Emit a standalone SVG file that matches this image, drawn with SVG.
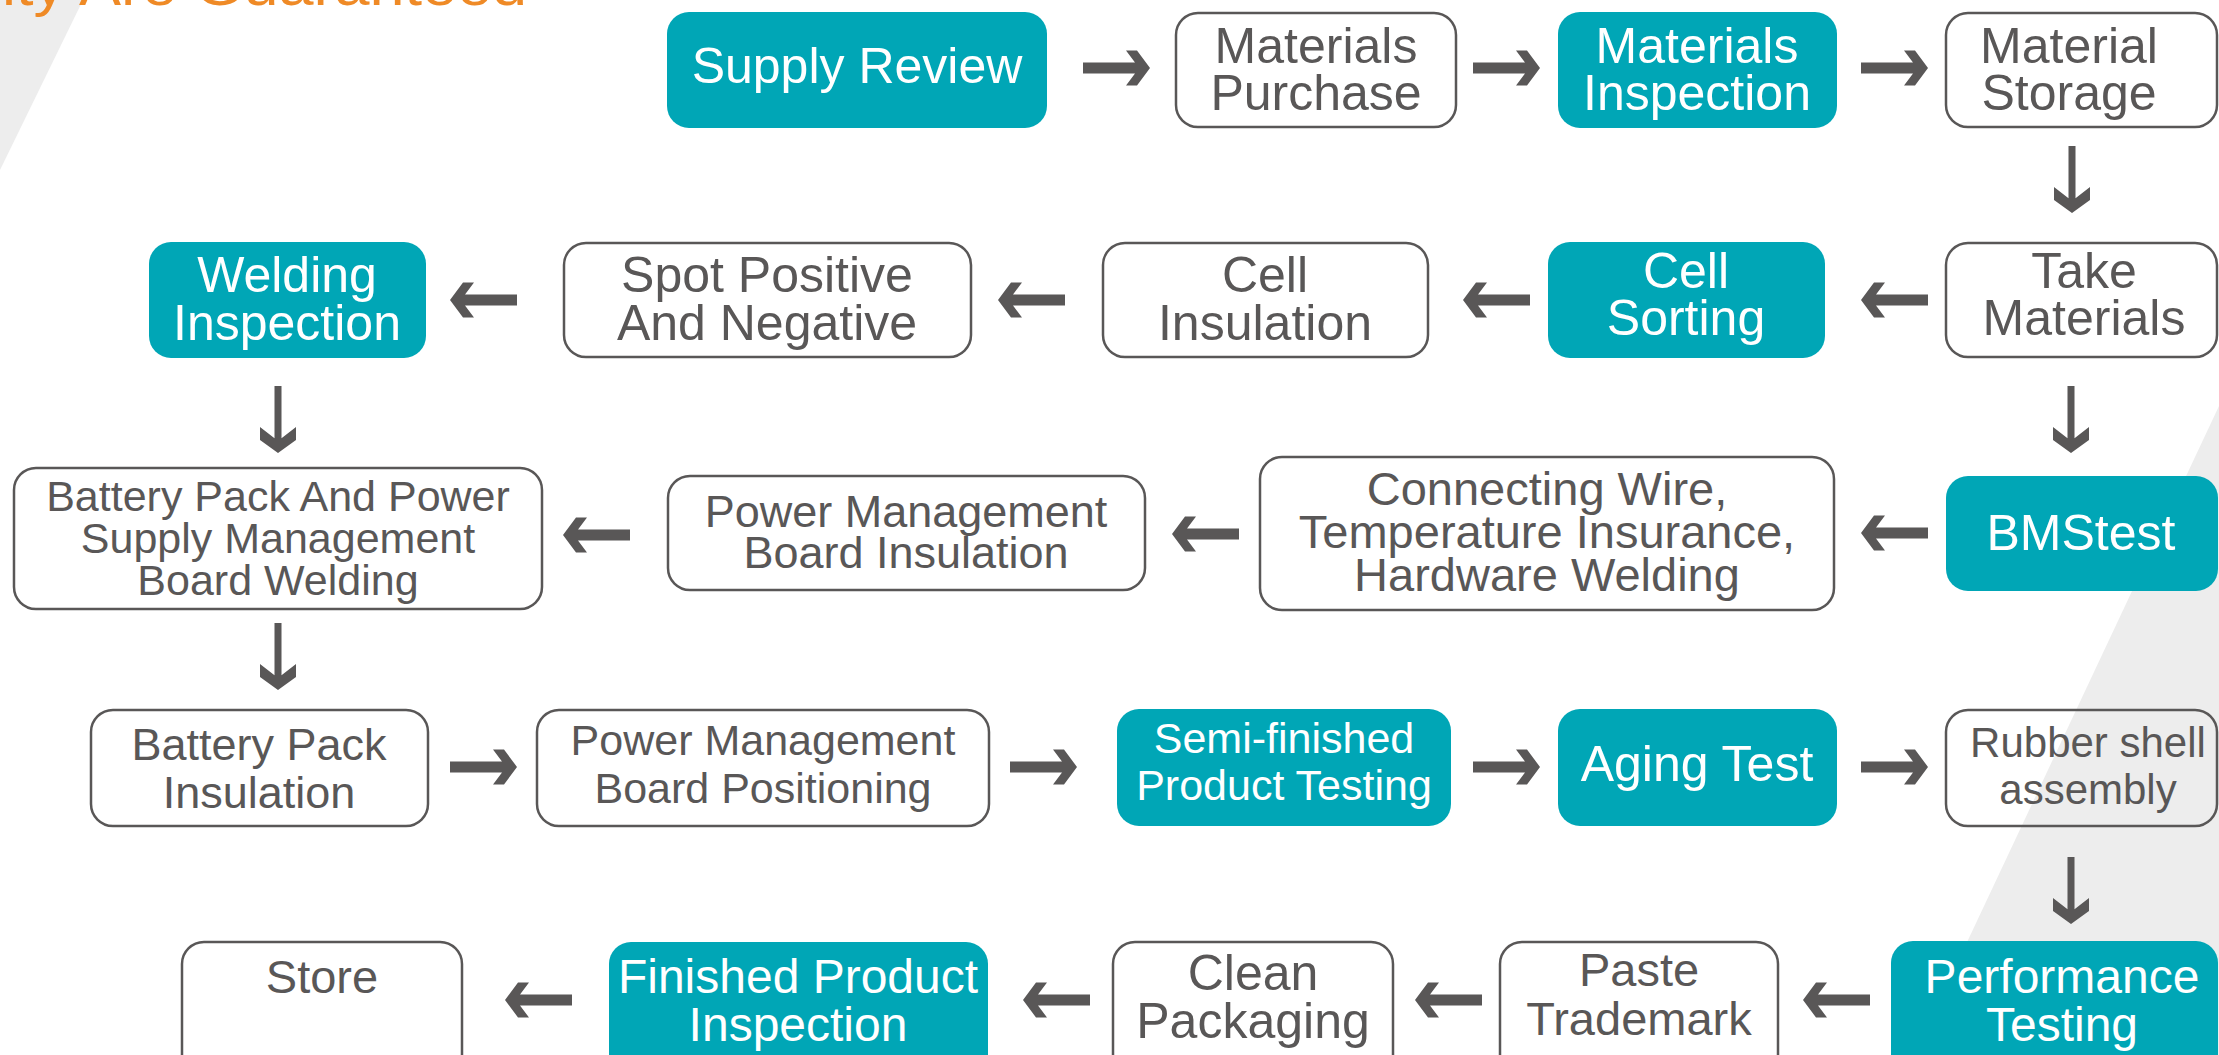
<svg xmlns="http://www.w3.org/2000/svg" xmlns:xlink="http://www.w3.org/1999/xlink" width="2219" height="1055" viewBox="0 0 2219 1055">
<style>
.bg{fill:#EDEDED}
.t{fill:#00A6B6}
.o{fill:none;stroke:#595757;stroke-width:2.5}
text{font-family:"Liberation Sans",Arial,sans-serif;text-anchor:middle}
.d{fill:#595757}
.w{fill:#FFFFFF}
.arr{fill:#595757}
.title{fill:#EF8A26;text-anchor:start}
</style>
<defs>
<path id="aR" d="M0,-5.5 H52 L43,-17.5 H54 L67,0 L54,17.5 H43 L52,5.5 H0 Z"/>
<path id="aL" d="M67,-5.5 H15 L24,-17.5 H13 L0,0 L13,17.5 H24 L15,5.5 H67 Z"/>
<path id="aD" d="M-3.5,0 H3.5 V52.2 L18,41 V54 L0,67 L-18,54 V41 L-3.5,52.2 Z"/>
</defs>
<rect width="2219" height="1055" fill="#FFFFFF"/>
<polygon class="bg" points="0,0 83,0 0,170"/>
<polygon class="bg" points="2219,406 2219,1055 1914,1055"/>
<text class="title" x="2" y="5" font-size="58" textLength="525" lengthAdjust="spacingAndGlyphs">ity Are Guaranteed</text>

<g id="connectors" class="arr">
<use xlink:href="#aR" x="1083" y="68"/>
<use xlink:href="#aR" x="1473" y="68"/>
<use xlink:href="#aR" x="1861" y="68"/>
<use xlink:href="#aD" x="2072" y="146"/>
<use xlink:href="#aL" x="1861" y="300"/>
<use xlink:href="#aL" x="1463" y="300"/>
<use xlink:href="#aL" x="998" y="300"/>
<use xlink:href="#aL" x="450" y="300"/>
<use xlink:href="#aD" x="2071" y="386"/>
<use xlink:href="#aD" x="278" y="386"/>
<use xlink:href="#aL" x="1861" y="533"/>
<use xlink:href="#aL" x="1172" y="534"/>
<use xlink:href="#aL" x="563" y="535"/>
<use xlink:href="#aD" x="278" y="623"/>
<use xlink:href="#aR" x="450" y="767"/>
<use xlink:href="#aR" x="1010" y="767"/>
<use xlink:href="#aR" x="1473" y="767"/>
<use xlink:href="#aR" x="1861" y="767"/>
<use xlink:href="#aD" x="2071" y="857"/>
<use xlink:href="#aL" x="1803" y="1000"/>
<use xlink:href="#aL" x="1415" y="1000"/>
<use xlink:href="#aL" x="1023" y="1000"/>
<use xlink:href="#aL" x="505" y="1000"/>
</g>

<g id="supply-review"><rect class="t" x="667" y="12" width="380" height="116" rx="22"/><text class="w" x="857" y="83" font-size="50">Supply Review</text></g>
<g id="materials-purchase"><rect class="o" x="1176" y="13" width="280" height="114" rx="22"/><text class="d" x="1316" font-size="50"><tspan x="1316" y="63">Materials</tspan><tspan x="1316" y="110">Purchase</tspan></text></g>
<g id="materials-inspection"><rect class="t" x="1558" y="12" width="279" height="116" rx="22"/><text class="w" font-size="50"><tspan x="1697" y="63">Materials</tspan><tspan x="1697" y="110">Inspection</tspan></text></g>
<g id="material-storage"><rect class="o" x="1946" y="13" width="271" height="114" rx="22"/><text class="d" font-size="50"><tspan x="2069" y="63">Material</tspan><tspan x="2069" y="110">Storage</tspan></text></g>

<g id="take-materials"><rect class="o" x="1946" y="243" width="271" height="114" rx="22"/><text class="d" font-size="50"><tspan x="2084" y="288">Take</tspan><tspan x="2084" y="335">Materials</tspan></text></g>
<g id="cell-sorting"><rect class="t" x="1548" y="242" width="277" height="116" rx="22"/><text class="w" font-size="50"><tspan x="1686" y="288">Cell</tspan><tspan x="1686" y="335">Sorting</tspan></text></g>
<g id="cell-insulation"><rect class="o" x="1103" y="243" width="325" height="114" rx="22"/><text class="d" font-size="50"><tspan x="1265" y="292">Cell</tspan><tspan x="1265" y="340">Insulation</tspan></text></g>
<g id="spot-positive"><rect class="o" x="564" y="243" width="407" height="114" rx="22"/><text class="d" font-size="50"><tspan x="767" y="292">Spot Positive</tspan><tspan x="767" y="340">And Negative</tspan></text></g>
<g id="welding-inspection"><rect class="t" x="149" y="242" width="277" height="116" rx="22"/><text class="w" font-size="50"><tspan x="287" y="292">Welding</tspan><tspan x="287" y="340">Inspection</tspan></text></g>

<g id="bms-test"><rect class="t" x="1946" y="476" width="272" height="115" rx="22"/><text class="w" x="2081" y="550" font-size="50">BMStest</text></g>
<g id="connecting-wire"><rect class="o" x="1260" y="457" width="574" height="153" rx="22"/><text class="d" font-size="47"><tspan x="1547" y="505">Connecting Wire,</tspan><tspan x="1547" y="548">Temperature Insurance,</tspan><tspan x="1547" y="591">Hardware Welding</tspan></text></g>
<g id="pmb-insulation"><rect class="o" x="668" y="476" width="477" height="114" rx="22"/><text class="d" font-size="45"><tspan x="906" y="527">Power Management</tspan><tspan x="906" y="568">Board Insulation</tspan></text></g>
<g id="battery-pack-welding"><rect class="o" x="14" y="468" width="528" height="141" rx="22"/><text class="d" font-size="43"><tspan x="278" y="511">Battery Pack And Power</tspan><tspan x="278" y="553">Supply Management</tspan><tspan x="278" y="595">Board Welding</tspan></text></g>

<g id="battery-pack-insulation"><rect class="o" x="91" y="710" width="337" height="116" rx="22"/><text class="d" font-size="45"><tspan x="259" y="760">Battery Pack</tspan><tspan x="259" y="808">Insulation</tspan></text></g>
<g id="pmb-positioning"><rect class="o" x="537" y="710" width="452" height="116" rx="22"/><text class="d" font-size="43"><tspan x="763" y="755">Power Management</tspan><tspan x="763" y="803">Board Positioning</tspan></text></g>
<g id="semi-finished-testing"><rect class="t" x="1117" y="709" width="334" height="117" rx="22"/><text class="w" font-size="43"><tspan x="1284" y="753">Semi-finished</tspan><tspan x="1284" y="800">Product Testing</tspan></text></g>
<g id="aging-test"><rect class="t" x="1558" y="709" width="279" height="117" rx="22"/><text class="w" x="1697" y="781" font-size="50">Aging Test</text></g>
<g id="rubber-shell"><rect class="o" x="1946" y="710" width="271" height="116" rx="22"/><text class="d" font-size="42"><tspan x="2088" y="757">Rubber shell</tspan><tspan x="2088" y="804">assembly</tspan></text></g>

<g id="performance-testing"><rect class="t" x="1891" y="941" width="327" height="140" rx="22"/><text class="w" font-size="48"><tspan x="2062" y="993">Performance</tspan><tspan x="2062" y="1041">Testing</tspan></text></g>
<g id="paste-trademark"><rect class="o" x="1500" y="942" width="278" height="140" rx="22"/><text class="d" font-size="47"><tspan x="1639" y="986">Paste</tspan><tspan x="1639" y="1035">Trademark</tspan></text></g>
<g id="clean-packaging"><rect class="o" x="1113" y="942" width="280" height="140" rx="22"/><text class="d" font-size="50"><tspan x="1253" y="990">Clean</tspan><tspan x="1253" y="1038">Packaging</tspan></text></g>
<g id="finished-inspection"><rect class="t" x="609" y="942" width="379" height="140" rx="22"/><text class="w" font-size="48"><tspan x="798" y="993">Finished Product</tspan><tspan x="798" y="1041">Inspection</tspan></text></g>
<g id="store"><rect class="o" x="182" y="942" width="280" height="140" rx="22"/><text class="d" x="322" y="993" font-size="47">Store</text></g>
</svg>
